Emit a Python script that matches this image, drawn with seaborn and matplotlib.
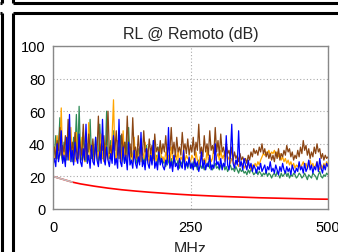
import numpy as np
import pandas as pd
import seaborn as sns
import matplotlib.pyplot as plt
from matplotlib.lines import Line2D

sns.set_style("white")
plt.rcParams['font.family'] = ['Liberation Sans', 'DejaVu Sans']

# frequencias (MHz), passo de 2.5 MHz
freq = np.arange(0, 500.1, 2.5)

verde = [30,34,45,31,38,56,33,29,41,35,30,48,32,37,29,44,36,58,31,63,
         34,30,47,33,29,40,35,55,31,38,30,44,33,29,52,36,31,39,30,60,
         35,31,42,30,48,33,29,38,31,45,30,35,28,41,32,50,30,36,29,40,
         31,28,37,30,43,29,33,27,39,31,30,35,28,42,30,33,27,38,29,32,
         28,30,26,35,29,27,31,26,33,28,27,30,25,29,27,32,26,28,25,30,
         27,25,29,26,28,24,30,27,25,28,24,27,26,29,25,27,24,26,28,25,
         26,24,27,25,28,24,26,23,25,27,24,25,23,26,24,22,25,23,24,22,
         23,21,24,22,25,23,21,22,24,21,23,22,20,22,21,23,20,22,21,19,
         21,22,20,23,21,19,22,20,21,23,20,22,19,21,20,22,21,19,20,22,
         21,19,20,22,20,18,21,20,19,22,21,20,18,21,23,20,19,21,20,22,
         21]
laranja = [32,29,36,45,30,34,62,31,38,29,42,33,30,50,32,35,29,47,31,36,
           30,44,33,29,38,31,53,30,36,32,29,41,31,35,30,46,32,29,39,33,
           30,36,31,45,67,33,30,42,31,37,29,48,32,34,30,39,31,35,29,44,
           31,33,30,38,29,35,31,41,30,34,28,37,32,30,36,29,33,31,39,30,
           32,29,35,30,33,28,38,31,29,34,30,36,28,32,30,37,29,33,31,30,
           29,33,31,28,35,30,27,32,34,29,31,28,36,30,33,29,31,38,30,32,
           34,30,36,31,33,29,35,30,32,28,31,29,27,30,28,26,29,27,28,25,
           27,25,28,26,24,27,25,28,26,29,27,30,32,34,33,35,34,36,33,35,
           34,36,33,35,32,34,30,32,29,31,28,30,27,29,26,28,25,27,26,28,
           25,27,29,26,28,25,27,30,26,28,25,27,29,26,24,27,25,28,26,29,
           27]
azul = [27,31,26,40,29,35,48,28,33,26,44,30,58,29,36,27,41,31,28,46,
        29,26,37,30,52,28,33,25,39,29,27,44,30,26,35,28,55,31,27,38,
        30,26,34,28,45,27,31,25,55,29,26,38,28,33,24,41,27,30,25,36,
        28,25,32,27,47,26,30,24,37,28,25,33,27,42,25,29,24,35,27,31,
        26,24,30,27,50,25,29,23,33,26,28,24,31,27,25,36,24,29,26,32,
        25,28,24,31,26,29,23,27,35,25,30,24,28,26,33,24,27,25,40,27,
        29,25,31,24,28,26,45,27,24,33,52,28,25,30,27,48,26,29,24,31,
        27,24,30,25,28,23,27,25,22,26,24,28,23,25,27,22,26,24,29,23,
        25,22,27,24,21,26,23,28,24,22,26,23,25,21,27,24,22,25,23,29,
        24,26,22,28,23,25,30,24,27,22,26,24,29,23,31,25,22,27,24,28,
        26]
marrom = [34,38,31,42,36,50,33,39,35,45,32,55,37,34,41,33,47,36,31,44,
          38,33,52,35,40,31,46,37,34,43,32,38,35,57,33,40,36,45,31,42,
          60,34,39,32,44,36,48,33,38,31,46,35,41,33,57,36,40,32,56,35,
          38,31,45,34,40,33,48,35,37,32,43,34,39,31,46,35,38,33,42,34,
          40,35,45,33,38,36,50,34,41,32,44,35,38,33,47,36,40,34,43,33,
          39,35,44,33,41,36,52,34,38,32,45,35,40,33,48,36,39,34,50,35,
          42,33,46,35,38,32,40,34,36,31,38,30,35,31,33,29,34,30,32,29,
          31,28,33,30,35,32,37,34,36,33,38,35,40,34,37,32,35,31,34,30,
          33,29,35,31,37,30,34,32,36,33,39,35,37,32,35,30,33,31,36,32,
          38,34,42,36,39,33,37,31,35,32,38,34,40,35,37,31,34,30,33,31,
          32]

# limite
lim_freq = [0, 10, 20, 35, 50, 75, 100, 125, 150, 175, 200, 225, 250, 275, 300, 325,
            350, 375, 400, 425, 450, 475, 500]
lim_val = [20, 19, 18, 16.5, 15.4, 14.0, 12.8, 11.8, 11.0, 10.3, 9.7, 9.1, 8.6, 8.2,
           7.8, 7.5, 7.2, 6.9, 6.7, 6.5, 6.3, 6.1, 6.0]

cores = {'verde': '#2e8b57', 'laranja': '#ffa500', 'marrom': '#8b4513', 'azul': '#0000ff'}
series = {'verde': verde, 'laranja': laranja, 'marrom': marrom, 'azul': azul}

df = pd.concat([pd.DataFrame({'MHz': freq, 'dB': v, 'par': k}) for k, v in series.items()])

fig = plt.figure(figsize=(3.38, 2.53), dpi=100)
ax = fig.add_axes([53/338, 1-210/253, 275/338, 163/253])

sns.lineplot(data=df, x='MHz', y='dB', hue='par', palette=cores, hue_order=list(series),
             estimator=None, linewidth=0.9, legend=False, ax=ax)
sns.lineplot(x=lim_freq, y=lim_val, color='red', linewidth=1.2, estimator=None, ax=ax)
sns.lineplot(x=lim_freq[:4], y=lim_val[:4], color='#c0c0c0', linewidth=1.2, estimator=None, ax=ax)

ax.set_xlim(0, 500)
ax.set_ylim(0, 100)
ax.set_xticks([0, 250, 500])
ax.set_yticks([0, 20, 40, 60, 80, 100])
ax.grid(True, color='#aaaaaa', linestyle=(0, (1, 2)), linewidth=0.8)
for s in ax.spines.values():
    s.set_color('#888888')
    s.set_linewidth(1)
ax.tick_params(length=0, labelsize=10.5, colors='black')
ax.tick_params(axis='y', pad=5.5)
ax.tick_params(axis='x', pad=8)
ax.set_xlabel('MHz', fontsize=11.5, labelpad=5)
ax.set_ylabel('')
ax.set_title('RL @ Remoto (dB)', fontsize=11.5, pad=6)

# bordas dos paineis
def linha(xs, ys, lw=2.2):
    fig.add_artist(Line2D([x/338 for x in xs], [1-y/253 for y in ys], color='black',
                          linewidth=lw, transform=fig.transFigure, solid_capstyle='butt'))

linha([2, 2], [0, 3.5])
linha([0, 2], [3.5, 3.5])
linha([13, 13], [0, 3.5])
linha([13, 338], [3.5, 3.5])
linha([2, 2], [13.5, 253])
linha([0, 2], [13.5, 13.5])
linha([13, 13], [13.5, 253])
linha([13, 338], [13.5, 13.5])

plt.savefig('out.png', dpi=100)
